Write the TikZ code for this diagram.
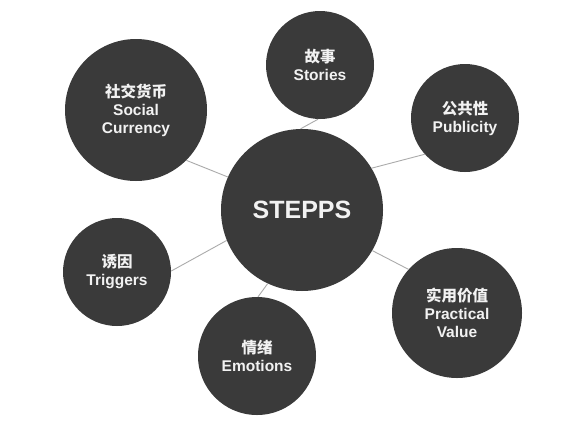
\documentclass[tikz,border=0pt]{standalone}
\usepackage{fontspec}
\setmainfont{Liberation Sans}
\newfontfamily\cjk{Noto Sans CJK SC}
\definecolor{bubble}{HTML}{3A3A3A}
\definecolor{conncol}{HTML}{ABABAB}
\definecolor{txt}{HTML}{F2F2F2}
\tikzset{
  bubble/.style={circle, fill=bubble, inner sep=0pt, text=txt, align=center,
    font=\fontsize{15.5}{18}\selectfont\bfseries},
  conn/.style={draw=conncol, line width=0.9pt}
}
\begin{document}
\begin{tikzpicture}[x=1pt,y=-1pt]
\useasboundingbox[fill=white] (0,0) rectangle (588,423);
\node[bubble, minimum size=162pt, font=\fontsize{25}{28}\selectfont\bfseries] (stepps) at (302,210) {STEPPS};
\node[bubble, minimum size=108pt] (stories) at (320,65) {{\cjk\bfseries 故事}\\Stories};
\node[bubble, minimum size=142pt] (social) at (136,110) {{\cjk\bfseries 社交货币}\\Social\\Currency};
\node[bubble, minimum size=108pt] (publicity) at (465,118) {{\cjk\bfseries 公共性}\\Publicity};
\node[bubble, minimum size=108pt] (triggers) at (117,272) {{\cjk\bfseries 诱因}\\Triggers};
\node[bubble, minimum size=118pt] (emotions) at (257,356) {{\cjk\bfseries 情绪}\\Emotions};
\node[bubble, minimum size=130pt] (practical) at (457,313) {{\cjk\bfseries 实用价值}\\Practical\\Value};
\draw[conn] (stepps.91) -- (stories.268);
\draw[conn] (stepps.156) -- (social.315);
\draw[conn] (stepps.31) -- (publicity.222);
\draw[conn] (stepps.202) -- (triggers.1);
\draw[conn] (stepps.245) -- (emotions.89);
\draw[conn] (stepps.330) -- (practical.138);
\end{tikzpicture}
\end{document}
